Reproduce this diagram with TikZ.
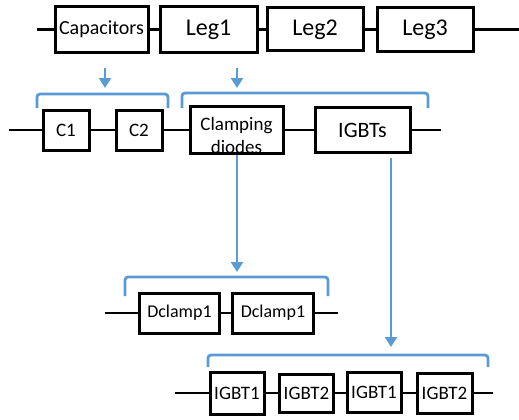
\documentclass[tikz,border=0pt]{standalone}
\usepackage{fontspec}
\setmainfont{Carlito}
\usepackage{tikz}
\usetikzlibrary{arrows.meta,positioning}
\definecolor{brblue}{RGB}{91,155,213}

\begin{document}
\begin{tikzpicture}[x=1pt,y=-1pt,
    box/.style={draw=black,fill=white,line width=3pt,inner sep=0pt,
                align=center},
    wire/.style={line width=2.6pt,black},
    arr/.style={-{Triangle[width=12pt,length=10pt]},line width=2.2pt,brblue},
    bracket/.style={line width=2.8pt,brblue,rounded corners=3pt},
    fbig/.style={font=\fontsize{24}{28}\selectfont},
    fmid/.style={font=\fontsize{20}{24}\selectfont},
    fsmall/.style={font=\fontsize{19}{23}\selectfont}
  ]
    \useasboundingbox (0,0) rectangle (519,420);

    % top level
    \node[box,fmid,minimum width=93pt,minimum height=46pt] (cap) at (101.5,29.5) {Capacitors};
    \node[box,fbig,minimum width=97pt,minimum height=46pt] (leg1) at (208.5,29.5) {Leg1};
    \node[box,fbig,minimum width=96pt,minimum height=43pt] (leg2) at (315,29.5) {Leg2};
    \node[box,fbig,minimum width=96pt,minimum height=44pt] (leg3) at (425,29.5) {Leg3};
    \coordinate (w1l) at (37,29.5);
    \coordinate (w1r) at (519,29.5);
    \draw[wire] (w1l) -- (cap) -- (leg1) -- (leg2) -- (leg3) -- (w1r);

    % capacitors and one leg
    \node[box,fsmall,minimum width=46pt,minimum height=40pt] (c1) at (66,130) {C1};
    \node[box,fsmall,minimum width=46pt,minimum height=40pt] (c2) at (139,130) {C2};
    \node[box,minimum width=93pt,minimum height=47pt] (clamp) at (236.5,130) {};
    \node[fsmall,align=center,inner sep=0pt] (clamptxt) at (236.5,135.5) {Clamping\\diodes};
    \node[box,font=\fontsize{22}{26}\selectfont,minimum width=95pt,minimum height=45pt] (igbts) at (362.5,130) {IGBTs};
    \coordinate (w2l) at (9,130);
    \coordinate (w2r) at (441,130);
    \draw[wire] (w2l) -- (c1) -- (c2) -- (clamp) -- (igbts) -- (w2r);

    \draw[bracket] (37,108) -- (37,94) -- (168,94) -- (168,108);
    \draw[bracket] (182,108) -- (182,93) -- (428,93) -- (428,108);

    % clamping diodes
    \node[box,font=\fontsize{18}{22}\selectfont,minimum width=80pt,minimum height=40pt] (dc1) at (179.5,313) {Dclamp1};
    \node[box,font=\fontsize{18}{22}\selectfont,minimum width=81pt,minimum height=40pt] (dc2) at (273,313) {Dclamp1};
    \coordinate (w3l) at (105,313);
    \coordinate (w3r) at (338,313);
    \draw[wire] (w3l) -- (dc1) -- (dc2) -- (w3r);
    \draw[bracket] (125,296) -- (125,277) -- (328,277) -- (328,296);

    % IGBTs
    \node[box,fsmall,minimum width=54pt,minimum height=42pt] (ig1) at (237,393) {IGBT1};
    \node[box,fsmall,minimum width=54pt,minimum height=38pt] (ig2) at (306.5,393) {IGBT2};
    \node[box,fsmall,minimum width=54pt,minimum height=40pt] (ig3) at (374,392) {IGBT1};
    \node[box,fsmall,minimum width=55pt,minimum height=40pt] (ig4) at (444.5,393) {IGBT2};
    \coordinate (w4l) at (175,393);
    \coordinate (w4r) at (493,393);
    \draw[wire] (w4l) -- (ig1) -- (ig2);
    \draw[wire] (ig2.east) -- (ig2.east -| ig3.west);
    \draw[wire] (ig3.east |- ig4) -- (ig4.west);
    \draw[wire] (ig4) -- (w4r);
    \draw[bracket] (208,367) -- (208,355) -- (488,355) -- (488,367);

    % arrows down to the brackets
    \coordinate (captip) at (105,88);
    \coordinate (legtip) at (237,88);
    \coordinate (clamptip) at (237,272);
    \coordinate (igbttip) at (391,347);
    \draw[arr,shorten <=14pt] (cap.south -| captip) -- (captip);
    \draw[arr,shorten <=14pt] (leg1.south -| legtip) -- (legtip);
    \draw[arr] (clamp.south -| clamptip) -- (clamptip);
    \draw[arr,shorten <=4pt] (igbts.south -| igbttip) -- (igbttip);
  \end{tikzpicture}
\end{document}
